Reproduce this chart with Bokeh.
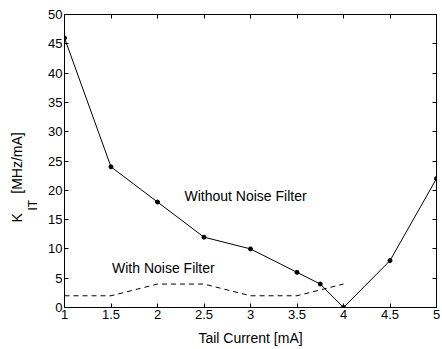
from bokeh.plotting import figure
from bokeh.models import (Range1d, LinearAxis, FixedTicker, NumeralTickFormatter,
                          Label, Title, ColumnDataSource)
from bokeh.embed import file_html
from bokeh.resources import INLINE

# ---- data ----
current_without = [1, 1.5, 2, 2.5, 3, 3.5, 3.75, 4, 4.5, 5]
kit_without = [46, 24, 18, 12, 10, 6, 4, 0, 8, 22]

current_with = [1, 1.5, 2, 2.5, 3, 3.5, 4]
kit_with = [2, 2, 4, 4, 2, 2, 4]

x_ticks = [1, 1.5, 2, 2.5, 3, 3.5, 4, 4.5, 5]
y_ticks = [0, 5, 10, 15, 20, 25, 30, 35, 40, 45, 50]

FONT = "Liberation Sans"

p = figure(width=440, height=349, output_backend="svg", toolbar_location=None,
           x_range=Range1d(1, 5), y_range=Range1d(0, 50),
           x_axis_type=None, y_axis_type=None,
           min_border_left=64, min_border_right=4, min_border_top=14,
           min_border_bottom=42)
p.background_fill_color = "white"
p.border_fill_color = "white"
p.outline_line_color = "black"
p.outline_line_width = 1
p.xgrid.visible = False
p.ygrid.visible = False


def style_axis(ax, show_labels):
    ax.axis_line_color = "black"
    ax.axis_line_width = 1
    ax.major_tick_line_color = "black"
    ax.major_tick_in = 4
    ax.major_tick_out = 0
    ax.minor_tick_line_color = None
    ax.major_label_text_font = FONT
    ax.major_label_text_color = "black"
    if show_labels:
        ax.major_label_text_font_size = "13px"
        ax.major_label_standoff = 2
    else:
        ax.major_label_text_font_size = "0px"
        ax.major_label_text_alpha = 0
        ax.major_label_standoff = 0


xb = LinearAxis(ticker=FixedTicker(ticks=x_ticks),
                formatter=NumeralTickFormatter(format="0.[0]"))
style_axis(xb, True)
xb.axis_label = "Tail Current [mA]"
xb.axis_label_text_font = FONT
xb.axis_label_text_font_size = "14px"
xb.axis_label_text_font_style = "normal"
xb.axis_label_text_color = "black"
xb.axis_label_standoff = 8
p.add_layout(xb, "below")

yl = LinearAxis(ticker=FixedTicker(ticks=y_ticks))
style_axis(yl, True)
p.add_layout(yl, "left")

xt = LinearAxis(ticker=FixedTicker(ticks=x_ticks))
style_axis(xt, False)
p.add_layout(xt, "above")

yr = LinearAxis(ticker=FixedTicker(ticks=y_ticks))
style_axis(yr, False)
p.add_layout(yr, "right")

src1 = ColumnDataSource(dict(x=current_without, y=kit_without))
src2 = ColumnDataSource(dict(x=current_with, y=kit_with))

p.line("x", "y", source=src1, line_color="black", line_width=1)
p.scatter("x", "y", source=src1, marker="circle", size=4,
          fill_color="black", line_color="black")
p.line("x", "y", source=src2, line_color="black", line_width=1,
       line_dash="5 4")

# annotations inside the plot
p.add_layout(Label(x=2.29, y=19.08, text="Without Noise Filter",
                   text_font=FONT, text_font_size="14px", text_color="black",
                   text_align="left", text_baseline="alphabetic"))
p.add_layout(Label(x=1.511, y=6.73, text="With Noise Filter",
                   text_font=FONT, text_font_size="14px", text_color="black",
                   text_align="left", text_baseline="alphabetic"))

# y axis label with subscript: K_IT[MHz/mA], built from two side titles
sub_title = Title(text="IT", align="left", offset=97, standoff=12,
                  text_font=FONT, text_font_size="12px",
                  text_font_style="normal", text_color="black")
main_title = Title(text="K\u00a0\u00a0\u00a0\u00a0\u00a0[MHz/mA]", align="left",
                   offset=85, standoff=-14,
                   text_font=FONT, text_font_size="14px",
                   text_font_style="normal", text_color="black")
p.add_layout(sub_title, "left")
p.add_layout(main_title, "left")

open("out.html", "w").write(file_html(p, INLINE))
